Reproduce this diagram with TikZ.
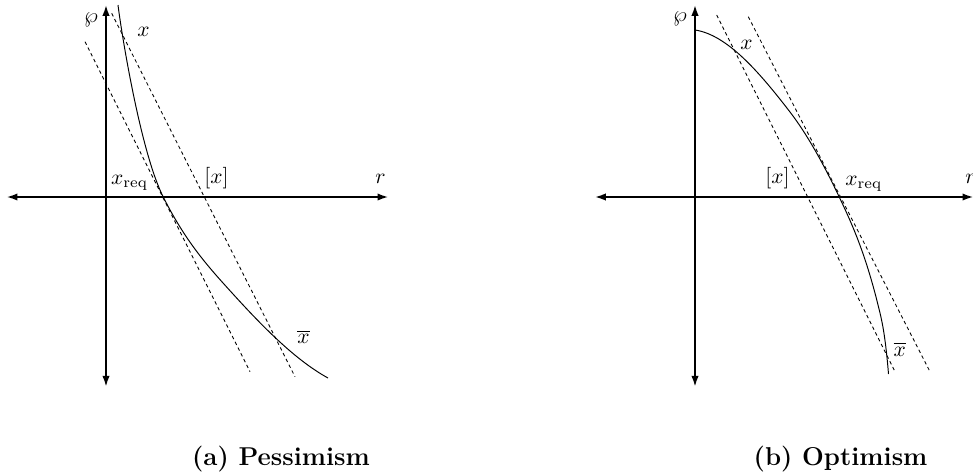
\documentclass[tikz,border=0pt]{standalone}
\usetikzlibrary{arrows.meta}
\begin{document}
\begin{tikzpicture}[x=0.465pt,y=-0.465pt,
  axis/.style={line width=0.8pt,{Latex[length=5pt,width=3.4pt]}-{Latex[length=5pt,width=3.4pt]}},
  curve/.style={line width=0.45pt},
  guide/.style={line width=0.4pt,dash pattern=on 1.6pt off 1.4pt},
  lbl/.style={inner sep=0pt,anchor=base west},
  captext/.style={inner sep=0pt,anchor=base west,font=\fontsize{12}{14}\selectfont\bfseries}]
\useasboundingbox (0,0) rectangle (973,472);
% ---------- panel (a) ----------
\coordinate (aT) at (106,5);
\coordinate (aB) at (106,386.7);
\coordinate (aL) at (6.7,197);
\coordinate (aR) at (388.3,197);
\draw[axis] (aB) -- (aT);
\draw[axis] (aL) -- (aR);
\coordinate (ak0) at (118,5);
\coordinate (ak1) at (163,196.5);
\coordinate (ak2) at (233,294);
\coordinate (ak3) at (328,378);
\draw[curve] (ak0) .. controls (122,37) and (141,152.5) .. (ak1)
  .. controls (186.33,243.17) and (209.67,268.33) .. (ak2)
  .. controls (264.67,328.83) and (296.33,360.58) .. (ak3);
\coordinate (a1s) at (85,41.7);
\coordinate (a1e) at (250,371.7);
\coordinate (a2s) at (111.7,13.3);
\coordinate (a2e) at (295,376.7);
\draw[guide] (a1s) -- (a1e);
\draw[guide] (a2s) -- (a2e);
\node (awp) at (91,20) {$\wp$};
\node[lbl] (ax) at (137,36) {$x$};
\node[lbl] (axreq) at (110.7,184) {$x_{\mathrm{req}}$};
\node[lbl] (aint) at (204,183) {$[x]$};
\node[lbl] (ar) at (375,183.3) {$r$};
\node[lbl] (axbar) at (297,343.3) {$\overline{x}$};
\node[captext] (acap) at (191.7,465) {(a) Pessimism};
% ---------- panel (b) ----------
\coordinate (bT) at (695,5);
\coordinate (bB) at (695,386.7);
\coordinate (bL) at (595,197);
\coordinate (bR) at (973.3,197);
\draw[axis] (bB) -- (bT);
\draw[axis] (bL) -- (bR);
\coordinate (bk0) at (695,30);
\coordinate (bk1) at (790,112);
\coordinate (bk2) at (839,196.5);
\coordinate (bk3) at (880,313);
\coordinate (bk4) at (888.5,374);
\draw[curve] (bk0) .. controls (726.67,34.75) and (758.17,70.62) .. (bk1)
  .. controls (806.33,133.23) and (822.67,162.2) .. (bk2)
  .. controls (852.67,225.2) and (866.33,255.6) .. (bk3)
  .. controls (882.83,324.9) and (885.67,340) .. (bk4);
\coordinate (b1s) at (716.7,15);
\coordinate (b1e) at (895,371.7);
\coordinate (b2s) at (748.3,16.7);
\coordinate (b2e) at (930,371.7);
\draw[guide] (b1s) -- (b1e);
\draw[guide] (b2s) -- (b2e);
\node (bwp) at (680,19) {$\wp$};
\node[lbl] (bx) at (740,49) {$x$};
\node[lbl] (bxreq) at (845,185) {$x_{\mathrm{req}}$};
\node[lbl] (bint) at (765,183) {$[x]$};
\node[lbl] (br) at (965,183.3) {$r$};
\node[lbl] (bxbar) at (893.3,356) {$\overline{x}$};
\node[captext] (bcap) at (753.3,465) {(b) Optimism};
\end{tikzpicture}
\end{document}
